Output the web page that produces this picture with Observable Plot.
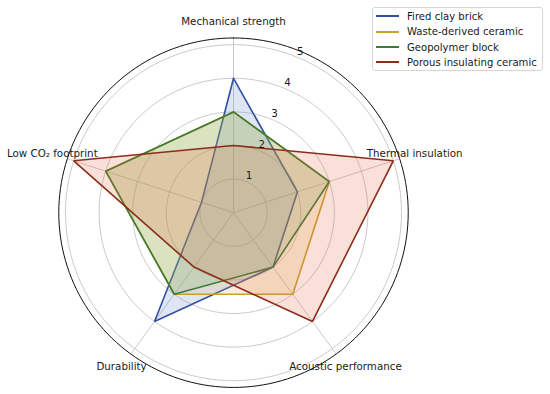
<!DOCTYPE html>
<html>
<head>
<meta charset="utf-8">
<script src="https://cdn.jsdelivr.net/npm/d3@7"></script>
<script src="https://cdn.jsdelivr.net/npm/@observablehq/plot@0.6"></script>
<style>
  body { margin: 0; background: #fff; }
  #wrap { position: relative; width: 550px; height: 394px; font-family: "DejaVu Sans", sans-serif; }
  #legend { position: absolute; left: 372px; top: 7px; width: 171px; height: 64px; border: 1px solid #d6d6d6; border-radius: 3px; background: rgba(255,255,255,0.85); box-sizing: border-box; }
  .row { position: absolute; left: 0; height: 15px; display: flex; align-items: center; font-size: 10.1px; color: #1a1a1a; white-space: nowrap; }
  .sw { display: inline-block; width: 23px; height: 2px; margin-left: 3px; margin-right: 8px; }
</style>
</head>
<body>
<div id="wrap"><div id="legend"></div></div>
<script>
const axesNames = ["Mechanical strength", "Thermal insulation", "Acoustic performance", "Durability", "Low CO₂ footprint"];
const seriesNames = ["Fired clay brick", "Waste-derived ceramic", "Geopolymer block", "Porous insulating ceramic"];
const firedClayBrick = [4, 2, 2, 4, 1];
const wasteDerivedCeramic = [3, 3, 3, 3, 4];
const geopolymerBlock = [3, 3, 2, 3, 4];
const porousInsulatingCeramic = [2, 5, 4, 2, 5];
const radialTicks = [1, 2, 3, 4, 5];
const rMax = 5.2;

const lineColors = ["#33509f", "#c9a02c", "#3d7a35", "#8b2d1a"];
const fillColors = ["#5a82c8", "#e2b448", "#62a858", "#e0663a"];
const seriesValues = [firedClayBrick, wasteDerivedCeramic, geopolymerBlock, porousInsulatingCeramic];

const W = 550, H = 394, cx = 233, cy = 212.2, unit = 33.6;
const n = axesNames.length;
const ang = i => i * 2 * Math.PI / n;
const px = (r, a) => r * Math.sin(a);
const py = (r, a) => r * Math.cos(a);

const polys = seriesNames.map((name, s) => {
  const vals = seriesValues[s];
  const pts = vals.map((v, i) => ({name, x: px(v, ang(i)), y: py(v, ang(i))}));
  pts.push({...pts[0]});
  return pts;
});

const spokes = axesNames.map((a, i) => ({x1: 0, y1: 0, x2: px(rMax, ang(i)), y2: py(rMax, ang(i))}));

function ring(r) {
  const pts = [];
  for (let k = 0; k <= 180; k++) { const a = k * 2 * Math.PI / 180; pts.push({x: px(r, a), y: py(r, a), r}); }
  return pts;
}
const rings = radialTicks.map(ring);
const frame = ring(rMax);

const tickAng = 22.5 * Math.PI / 180;
const tickLabels = radialTicks.map(t => ({t, x: px(t + 0.2, tickAng), y: py(t + 0.2, tickAng)}));
const axisLabels = axesNames.map((a, i) => ({a, x: px(5.67, ang(i)), y: py(5.67, ang(i))}));

const marks = [];
rings.forEach(rg => marks.push(Plot.line(rg, {x: "x", y: "y", stroke: "#c4c4c4", strokeWidth: 0.9})));
marks.push(Plot.link(spokes, {x1: "x1", y1: "y1", x2: "x2", y2: "y2", stroke: "#c4c4c4", strokeWidth: 0.9}));
marks.push(Plot.line(frame, {x: "x", y: "y", stroke: "#111", strokeWidth: 1}));
polys.forEach((p, s) => {
  marks.push(Plot.line(p, {x: "x", y: "y", fill: fillColors[s], fillOpacity: 0.2, stroke: "none", curve: "linear"}));
  marks.push(Plot.line(p, {x: "x", y: "y", stroke: lineColors[s], strokeWidth: 1.6, strokeLinejoin: "miter"}));
});
marks.push(Plot.text(tickLabels, {x: "x", y: "y", text: d => String(d.t), fontSize: 10.3, fill: "#1a1a1a"}));
marks.push(Plot.text(axisLabels, {x: "x", y: "y", text: "a", fontSize: 10.3, fill: "#1a1a1a"}));

const chart = Plot.plot({
  width: W, height: H,
  margin: 0,
  style: {fontFamily: "DejaVu Sans, sans-serif", background: "transparent", overflow: "visible"},
  x: {domain: [-cx / unit, (W - cx) / unit], range: [0, W], axis: null},
  y: {domain: [-(H - cy) / unit, cy / unit], range: [H, 0], axis: null},
  marks
});
const wrap = document.getElementById("wrap");
wrap.insertBefore(chart, wrap.firstChild);

const legend = document.getElementById("legend");
seriesNames.forEach((name, s) => {
  const row = document.createElement("div");
  row.className = "row";
  row.style.top = (0.8 + s * 15.35) + "px";
  const sw = document.createElement("span");
  sw.className = "sw";
  sw.style.background = lineColors[s];
  row.appendChild(sw);
  row.appendChild(document.createTextNode(name));
  legend.appendChild(row);
});
</script>
</body>
</html>
